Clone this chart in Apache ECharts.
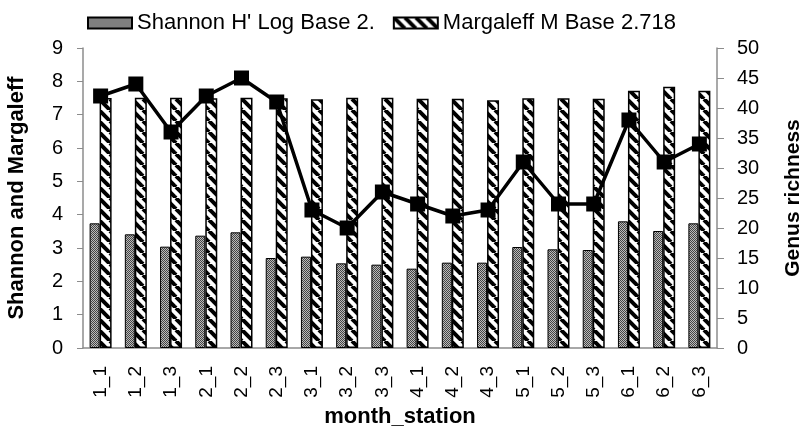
<!DOCTYPE html>
<html>
<head>
<meta charset="utf-8">
<script src="https://cdn.jsdelivr.net/npm/echarts@6/dist/echarts.min.js"></script>
<style>
html,body{margin:0;padding:0;background:#fff;}
#chart{width:804px;height:430px;}
</style>
</head>
<body>
<div id="chart"></div>
<script>
var categories = ['1_1','1_2','1_3','2_1','2_2','2_3','3_1','3_2','3_3','4_1','4_2','4_3','5_1','5_2','5_3','6_1','6_2','6_3'];
var shannon = [3.74,3.41,3.04,3.37,3.47,2.70,2.74,2.54,2.50,2.38,2.56,2.56,3.03,2.96,2.94,3.80,3.51,3.74];
var margaleff = [7.50,7.51,7.51,7.49,7.51,7.49,7.46,7.51,7.51,7.48,7.48,7.43,7.49,7.49,7.48,7.72,7.84,7.72];
var genus = [42,44,36,42,45,41,23,20,26,24,22,23,31,24,24,38,31,34];

// fill patterns
function dotPattern(){
    var c = document.createElement('canvas');
    c.width = 2; c.height = 2;
    var ctx = c.getContext('2d');
    ctx.fillStyle = '#bbb';
    ctx.fillRect(0,0,2,2);
    ctx.fillStyle = '#444';
    ctx.fillRect(0,0,1,1);
    ctx.fillRect(1,1,1,1);
    return c;
}
function stripePattern(){
    var s = 11;
    var c = document.createElement('canvas');
    c.width = s; c.height = s;
    var ctx = c.getContext('2d');
    ctx.fillStyle = '#fff';
    ctx.fillRect(0,0,s,s);
    ctx.strokeStyle = '#000';
    ctx.lineWidth = 4;
    [-s,0,s].forEach(function(o){
        ctx.beginPath();
        ctx.moveTo(o,0);
        ctx.lineTo(o+s,s);
        ctx.stroke();
    });
    return c;
}

var chart = echarts.init(document.getElementById('chart'));
var axisGrey = '#8c8c8c';
var options = {
    animation:false,
    textStyle:{fontFamily:'Liberation Sans, Arial, sans-serif'},
    legend:{
        left:82,
        top:7,
        icon:'rect',
        itemWidth:44,
        itemHeight:11,
        itemGap:18,
        textStyle:{fontSize:22,color:'#000'},
        data:["Shannon H' Log Base 2.",'Margaleff M Base 2.718']
    },
    grid:{left:83,right:87,top:48,bottom:82,containLabel:false,outerBoundsMode:'none'},
    xAxis:{
        type:'category',
        data:categories,
        name:'month_station',
        nameLocation:'middle',
        nameGap:56,
        nameTextStyle:{fontSize:22,fontWeight:'bold',color:'#000'},
        axisLine:{lineStyle:{color:axisGrey,width:1.5}},
        axisTick:{length:5,lineStyle:{color:axisGrey}},
        axisLabel:{rotate:90,fontSize:19,color:'#000',margin:18,interval:0}
    },
    yAxis:[
        {
            type:'value',min:0,max:9,interval:1,
            name:'Shannon and Margaleff',
            nameLocation:'middle',
            nameRotate:90,
            nameGap:55,
            nameTextStyle:{fontSize:22,fontWeight:'bold',color:'#000'},
            axisLine:{show:true,lineStyle:{color:axisGrey,width:1.5}},
            axisTick:{show:true,length:6,lineStyle:{color:axisGrey}},
            axisLabel:{fontSize:20,color:'#000',margin:20},
            splitLine:{show:false}
        },
        {
            type:'value',min:0,max:50,interval:5,
            name:'Genus richness',
            nameLocation:'middle',
            nameRotate:90,
            nameGap:66,
            nameTextStyle:{fontSize:21,fontWeight:'bold',color:'#000'},
            axisLine:{show:true,lineStyle:{color:axisGrey,width:1.5}},
            axisTick:{show:true,length:7,lineStyle:{color:axisGrey}},
            axisLabel:{fontSize:20,color:'#000',margin:20},
            splitLine:{show:false}
        }
    ],
    series:[
        {
            name:"Shannon H' Log Base 2.",
            type:'bar',
            yAxisIndex:0,
            data:shannon,
            barWidth:10,
            barGap:'0%',
            itemStyle:{color:{image:dotPattern(),repeat:'repeat'},borderColor:'#000',borderWidth:1}
        },
        {
            name:'Margaleff M Base 2.718',
            type:'bar',
            yAxisIndex:0,
            data:margaleff,
            barWidth:12,
            barGap:'0%',
            itemStyle:{color:{image:stripePattern(),repeat:'repeat'},borderColor:'#000',borderWidth:1.5}
        },
        {
            name:'Genus richness',
            type:'line',
            yAxisIndex:1,
            data:genus,
            symbol:'rect',
            symbolSize:15,
            lineStyle:{color:'#000',width:3.5},
            itemStyle:{color:'#000'},
            z:5
        }
    ]
};
chart.setOption(options);
</script>
</body>
</html>
